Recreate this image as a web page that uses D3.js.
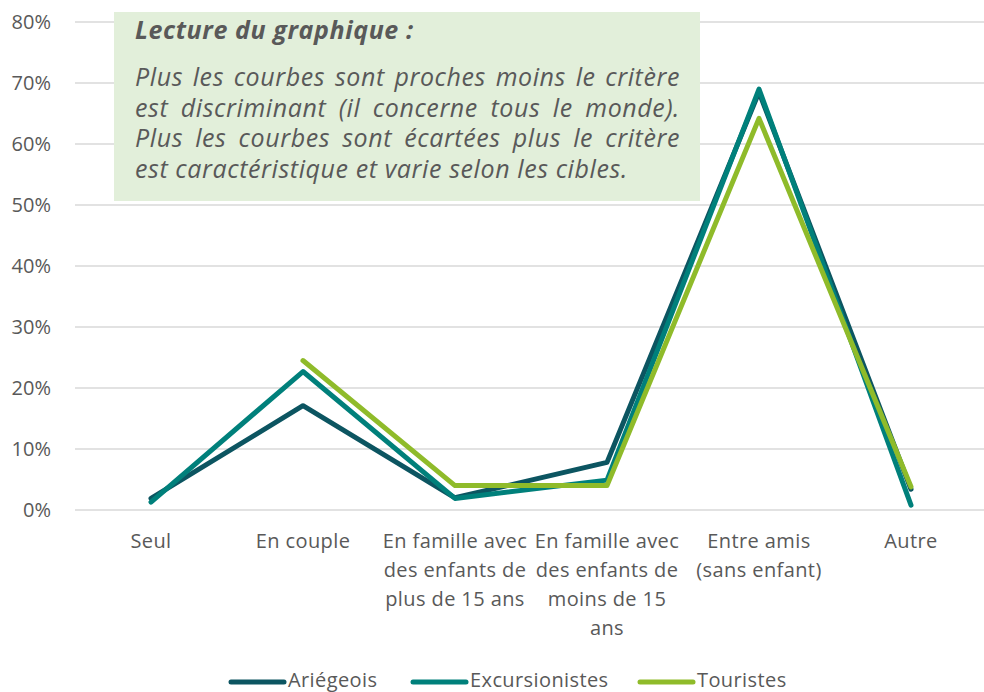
<!DOCTYPE html>
<html>
<head>
<meta charset="utf-8">
<script src="https://cdn.jsdelivr.net/npm/d3@7"></script>
<style>
  body { margin: 0; background: #fff; }
  svg { display: block; font-family: "Open Sans", sans-serif; }
</style>
</head>
<body>
<div id="chart"></div>
<script>
// Categories (x-axis), each split in the lines shown under the axis
const categories = [
    ['Seul'],
    ['En couple'],
    ['En famille avec', 'des enfants de', 'plus de 15 ans'],
    ['En famille avec', 'des enfants de', 'moins de 15', 'ans'],
    ['Entre amis', '(sans enfant)'],
    ['Autre']
];
const categoryKeys = categories.map(c => c.join(' '));

// Series values (share of respondents), null = no value
const ariegeois = [0.019, 0.171, 0.020, 0.078, 0.685, 0.034];
const excursionistes = [0.013, 0.227, 0.019, 0.049, 0.690, 0.008];
const touristes = [null, 0.245, 0.040, 0.040, 0.642, 0.038];

const seriesNames = ['Ariégeois', 'Excursionistes', 'Touristes'];
const seriesValues = [ariegeois, excursionistes, touristes];
const seriesColors = ['#0c5561', '#00807b', '#8fbb2a'];

const yTicks = [0, 0.1, 0.2, 0.3, 0.4, 0.5, 0.6, 0.7, 0.8];

const noteTitle = 'Lecture du graphique :';
const noteLines = [
    'Plus les courbes sont proches moins le critère',
    'est discriminant (il concerne tous le monde).',
    'Plus les courbes sont écartées plus le critère',
    'est caractéristique et varie selon les cibles.'
];

const width = 984, height = 692;
const margin = { top: 22, right: 0, bottom: 182, left: 75 };
const textColor = '#595959';

const svg = d3.select('#chart').append('svg')
    .attr('width', width)
    .attr('height', height);

const xScale = d3.scaleBand()
    .domain(categoryKeys)
    .range([margin.left, margin.left + 6 * 152])
    .padding(0);

const yScale = d3.scaleLinear()
    .domain([0, 0.8])
    .range([height - margin.bottom, margin.top]);

// Gridlines
svg.append('g').attr('class', 'grid')
    .selectAll('line')
    .data(yTicks)
    .join('line')
    .attr('x1', margin.left)
    .attr('x2', width)
    .attr('y1', d => yScale(d))
    .attr('y2', d => yScale(d))
    .attr('stroke', '#d9d9d9')
    .attr('stroke-width', 1.5);

// Y axis
const yAxis = d3.axisLeft(yScale)
    .tickValues(yTicks)
    .tickFormat(d3.format('.0%'))
    .tickSize(0)
    .tickPadding(0);

const yAxisG = svg.append('g')
    .attr('transform', `translate(51,0)`)
    .call(yAxis);
yAxisG.select('.domain').remove();
yAxisG.selectAll('text')
    .attr('fill', textColor)
    .style('font-size', '20px')
    .style('font-family', '"Open Sans", sans-serif');

// X axis labels
const xAxisG = svg.append('g').attr('class', 'x-axis');
categories.forEach((lines, i) => {
    const cx = xScale(categoryKeys[i]) + xScale.bandwidth() / 2;
    const t = xAxisG.append('text')
        .attr('x', cx)
        .attr('y', 548)
        .attr('text-anchor', 'middle')
        .attr('fill', textColor)
        .style('font-size', '20px')
        .style('letter-spacing', '0.4px');
    lines.forEach((l, j) => {
        t.append('tspan')
            .attr('x', cx)
            .attr('dy', j === 0 ? 0 : 29)
            .text(l);
    });
});

// Note box (drawn over gridlines, under the lines)
const note = svg.append('g').attr('class', 'note');
note.append('rect')
    .attr('x', 114)
    .attr('y', 12)
    .attr('width', 586)
    .attr('height', 189)
    .attr('fill', '#e2efda');

note.append('text')
    .attr('x', 135)
    .attr('y', 39)
    .attr('fill', textColor)
    .style('font-size', '25px')
    .style('font-style', 'italic')
    .style('font-weight', 'bold')
    .style('letter-spacing', '0.6px')
    .text(noteTitle);

const noteLeft = 135, noteRight = 680;
noteLines.forEach((l, i) => {
    const t = note.append('text')
        .attr('x', noteLeft)
        .attr('y', 86 + i * 30.7)
        .attr('fill', textColor)
        .style('font-size', '25px')
        .style('font-style', 'italic')
        .style('letter-spacing', '0.6px')
        .text(l);
    // justify every line but the last one
    if (i < noteLines.length - 1) {
        const w = t.node().getComputedTextLength();
        const spaces = (l.match(/ /g) || []).length;
        if (spaces > 0) t.attr('word-spacing', Math.max(0, (noteRight - noteLeft - w) / spaces));
    }
});

// Lines
const line = d3.line()
    .defined(d => d.v !== null)
    .x(d => xScale(d.k) + xScale.bandwidth() / 2)
    .y(d => yScale(d.v));

svg.append('g').attr('class', 'series')
    .selectAll('path')
    .data(seriesValues.map((vals, i) => ({
        name: seriesNames[i],
        color: seriesColors[i],
        points: vals.map((v, j) => ({ k: categoryKeys[j], v: v }))
    })))
    .join('path')
    .attr('d', d => line(d.points))
    .attr('fill', 'none')
    .attr('stroke', d => d.color)
    .attr('stroke-width', 5)
    .attr('stroke-linejoin', 'round')
    .attr('stroke-linecap', 'round');

// Legend
const legendX = [231, 413, 640];
const legend = svg.append('g').attr('class', 'legend')
    .selectAll('g')
    .data(seriesNames)
    .join('g')
    .attr('transform', (d, i) => `translate(${legendX[i]},682)`);

legend.append('line')
    .attr('x1', 0)
    .attr('x2', 53)
    .attr('stroke', (d, i) => seriesColors[i])
    .attr('stroke-width', 5)
    .attr('stroke-linecap', 'round');

legend.append('text')
    .attr('x', 57)
    .attr('y', 5)
    .attr('fill', textColor)
    .style('font-size', '20px')
    .style('letter-spacing', '0.4px')
    .text(d => d);
</script>
</body>
</html>
